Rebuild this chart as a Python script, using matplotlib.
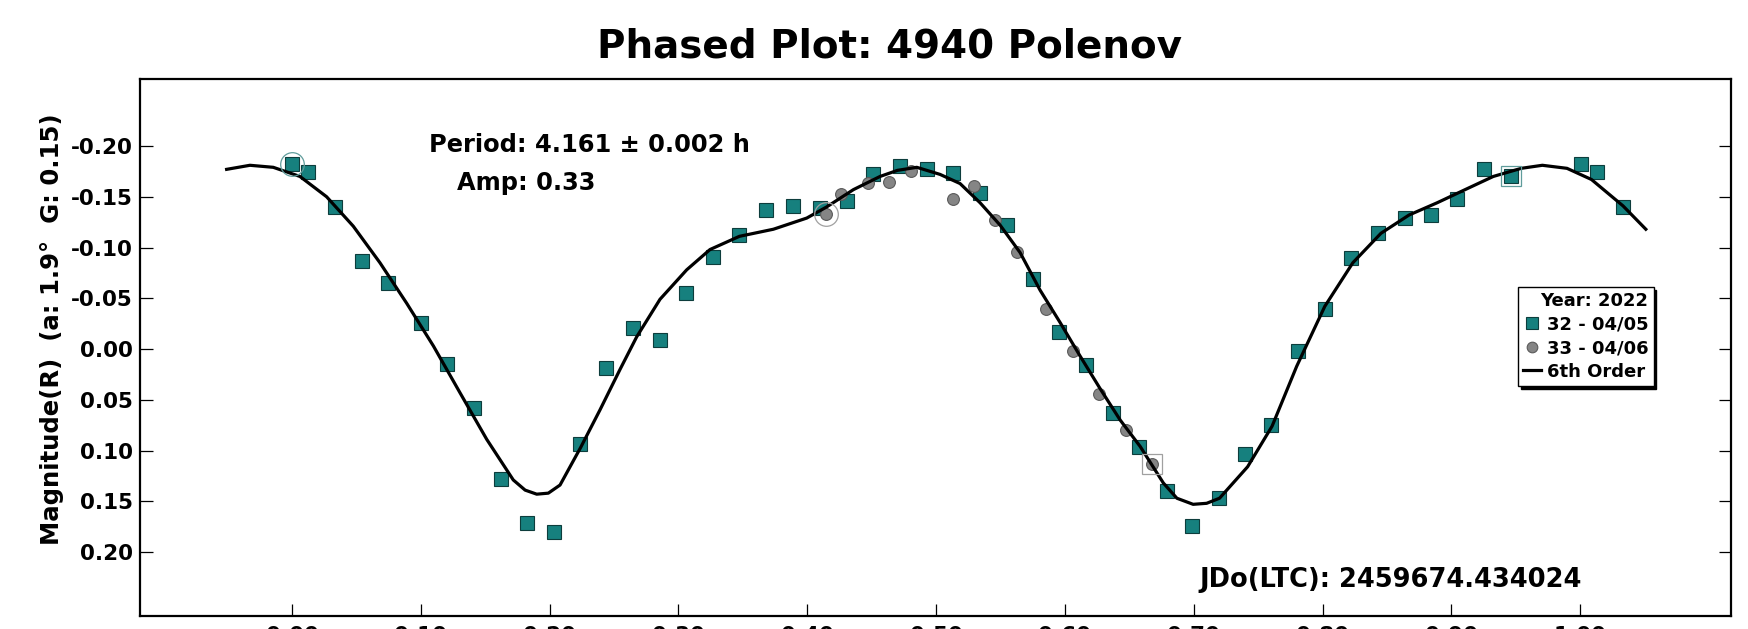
import matplotlib
matplotlib.use("Agg")
import matplotlib.pyplot as plt
import numpy as np

plt.rcParams["font.family"] = "DejaVu Sans"
plt.rcParams["font.weight"] = "bold"
plt.rcParams["axes.unicode_minus"] = False

# session 32 - 04/05 (teal squares)
s32_phase = [0.0002, 0.0127, 0.0334, 0.0541, 0.0748, 0.1002, 0.1206, 0.1413, 0.1620, 0.1827,
             0.2034, 0.2238, 0.2440, 0.2650, 0.2857, 0.3059, 0.3266, 0.3473, 0.3680, 0.3887,
             0.4099, 0.4309, 0.4513, 0.4720, 0.4928, 0.5134, 0.5342, 0.5549, 0.5751, 0.5957,
             0.6165, 0.6372, 0.6578, 0.6791, 0.6987, 0.7194, 0.7398, 0.7602, 0.7812, 0.8017,
             0.8221, 0.8431, 0.8638, 0.8842, 0.9047, 0.9256, 0.9460]
s32_mag = [-0.182, -0.174, -0.140, -0.087, -0.065, -0.026, 0.015, 0.058, 0.128, 0.171,
           0.180, 0.094, 0.019, -0.021, -0.009, -0.055, -0.091, -0.112, -0.137, -0.141,
           -0.139, -0.146, -0.172, -0.180, -0.177, -0.173, -0.154, -0.122, -0.069, -0.017,
           0.016, 0.063, 0.097, 0.140, 0.174, 0.147, 0.103, 0.075, 0.002, -0.039,
           -0.090, -0.114, -0.129, -0.132, -0.148, -0.177, -0.170]

# session 33 - 04/06 (grey circles)
s33_phase = [0.4146, 0.4260, 0.4474, 0.4637, 0.4804, 0.5130, 0.5295, 0.5458, 0.5627, 0.5854,
             0.6061, 0.6268, 0.6475, 0.6675]
s33_mag = [-0.133, -0.153, -0.164, -0.165, -0.175, -0.148, -0.161, -0.127, -0.096, -0.039,
           0.002, 0.044, 0.080, 0.113]

# 6th order fit curve
fit_phase = [-0.0507, -0.0326, -0.0145, 0.0062, 0.0269, 0.0476, 0.0683, 0.0891, 0.1098, 0.1304,
             0.1512, 0.1718, 0.1810, 0.1900, 0.1990, 0.2081, 0.2241, 0.2391, 0.2547, 0.2676,
             0.2857, 0.3064, 0.3245, 0.3473, 0.3737, 0.3996, 0.4151, 0.4358, 0.4565, 0.4700,
             0.4850, 0.5031, 0.5186, 0.5342, 0.5497, 0.5652, 0.5807, 0.5963, 0.6118, 0.6273,
             0.6429, 0.6584, 0.6764, 0.6869, 0.6995, 0.7100, 0.7200, 0.7418, 0.7608, 0.7799,
             0.8017, 0.8235, 0.8453, 0.8671, 0.8888, 0.9106, 0.9325, 0.9542, 0.9706, 0.9897,
             1.0087, 1.0332, 1.0509]
fit_mag = [-0.177, -0.181, -0.179, -0.170, -0.150, -0.121, -0.085, -0.045, -0.003, 0.043,
           0.089, 0.129, 0.139, 0.143, 0.142, 0.134, 0.097, 0.060, 0.020, -0.012,
           -0.049, -0.078, -0.098, -0.111, -0.118, -0.129, -0.140, -0.157, -0.170, -0.176,
           -0.179, -0.172, -0.163, -0.144, -0.122, -0.095, -0.058, -0.026, 0.007, 0.039,
           0.070, 0.096, 0.132, 0.147, 0.153, 0.152, 0.147, 0.116, 0.076, 0.017,
           -0.042, -0.085, -0.114, -0.132, -0.144, -0.157, -0.170, -0.178, -0.181, -0.178,
           -0.167, -0.141, -0.118]

x_ticks = [0.0, 0.1, 0.2, 0.3, 0.4, 0.5, 0.6, 0.7, 0.8, 0.9, 1.0]
y_ticks = [-0.20, -0.15, -0.10, -0.05, 0.0, 0.05, 0.10, 0.15, 0.20]

TEAL = "#16807e"
GREY = "#858585"

# points close to phase 0 are shown again past phase 1
s32_phase_all = list(s32_phase) + [p + 1 for p in s32_phase if p < 0.04]
s32_mag_all = list(s32_mag) + [m for p, m in zip(s32_phase, s32_mag) if p < 0.04]

fig = plt.figure(figsize=(17.49, 6.29), dpi=100)
ax = fig.add_axes([0.0800, 0.0207, 0.9097, 0.8537])

ax.plot(s32_phase_all, s32_mag_all, "s", ms=9.5, mfc=TEAL, mec="#0d3d3c", mew=0.8,
        label="32 - 04/05", zorder=3)
ax.plot(s33_phase, s33_mag, "o", ms=8.5, mfc=GREY, mec="#5a5a5a", mew=0.8,
        label="33 - 04/06", zorder=3)
ax.plot(fit_phase, fit_mag, "-", color="black", lw=2.3, label="6th Order", zorder=4)

# first / last point markers of each session
ax.plot(s32_phase[0], s32_mag[0], "o", ms=17, mfc="none", mec="#5f9c9b", mew=0.9, zorder=5)
ax.plot(s32_phase[-1], s32_mag[-1], "s", ms=15, mfc="none", mec="#5f9c9b", mew=0.9, zorder=5)
ax.plot(s33_phase[0], s33_mag[0], "o", ms=17, mfc="none", mec="#a0a0a0", mew=0.9, zorder=5)
ax.plot(s33_phase[-1], s33_mag[-1], "s", ms=15, mfc="none", mec="#a0a0a0", mew=0.9, zorder=5)

ax.set_xlim(-0.118, 1.117)
ax.set_ylim(0.263, -0.266)
ax.set_xticks(x_ticks)
ax.set_xticklabels([f"{v:.2f}" for v in x_ticks])
ax.set_yticks(y_ticks)
ax.set_yticklabels([f"{v:.2f}" for v in y_ticks])
ax.tick_params(axis="both", direction="in", length=9, width=0.9, labelsize=15.5)
ax.tick_params(axis="y", left=True, right=True, pad=5)
ax.tick_params(axis="x", top=False, pad=7)
for sp in ax.spines.values():
    sp.set_linewidth(1.6)

ax.text(0.1816, 0.877, "Period: 4.161 \u00b1 0.002 h", transform=ax.transAxes,
        fontsize=17.4, fontweight="bold", va="center", ha="left")
ax.text(0.1992, 0.806, "Amp: 0.33", transform=ax.transAxes,
        fontsize=17.4, fontweight="bold", va="center", ha="left")
ax.text(0.906, 0.067, "JDo(LTC): 2459674.434024", transform=ax.transAxes,
        fontsize=18.5, fontweight="bold", va="center", ha="right")

leg = ax.legend(loc="upper left", bbox_to_anchor=(0.866, 0.6127), borderaxespad=0,
                fancybox=False, shadow={"color": "black", "alpha": 1.0},
                framealpha=1, edgecolor="black", handlelength=1.0, handletextpad=0.3,
                borderpad=0.3, labelspacing=0.3, prop={"size": 13, "weight": "bold"},
                title="Year: 2022", title_fontproperties={"size": 13, "weight": "bold"},
                alignment="right", markerscale=0.9)
leg.get_frame().set_linewidth(1.0)

fig.text(0.5083, 0.9253, "Phased Plot: 4940 Polenov", ha="center", va="center",
         fontsize=28, fontweight="heavy")
fig.text(0.0297, 0.477, "Magnitude(R)  (a: 1.9\u00b0  G: 0.15)", rotation=90,
         ha="center", va="center", fontsize=17.6, fontweight="bold")

fig.savefig("out.png", dpi=100)
